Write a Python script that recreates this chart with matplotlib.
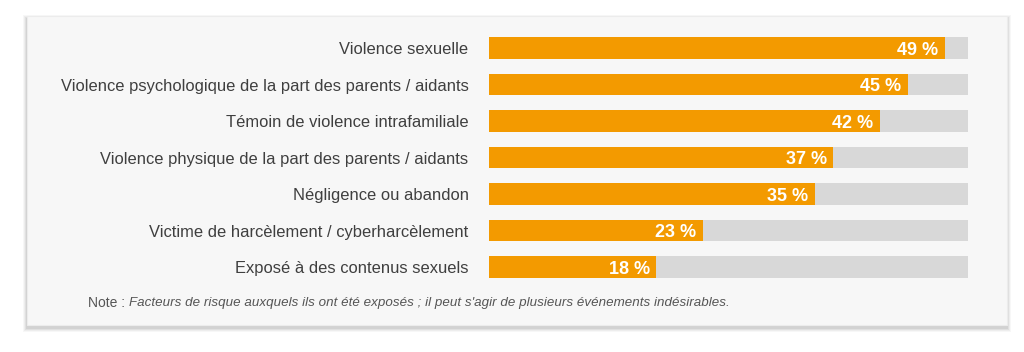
import matplotlib.pyplot as plt
from matplotlib.patches import Rectangle

categories = [
    "Violence sexuelle",
    "Violence psychologique de la part des parents / aidants",
    "Témoin de violence intrafamiliale",
    "Violence physique de la part des parents / aidants",
    "Négligence ou abandon",
    "Victime de harcèlement / cyberharcèlement",
    "Exposé à des contenus sexuels",
]
values = [49, 45, 42, 37, 35, 23, 18]
track_max = 51.5

orange = "#f39a00"
track = "#d8d8d8"
text_col = "#3f3f3f"
police = "Liberation Sans"

W, H = 1024, 352
fig = plt.figure(figsize=(W / 100, H / 100), dpi=100)
fig.patch.set_facecolor("white")

# carte de fond avec ombre
for i, a in enumerate([0.03, 0.04, 0.05, 0.06]):
    off = 4 - i
    fig.patches.append(Rectangle(((27 - off) / W, 1 - (325 + off + 3) / H),
                                 (980 + 2 * off) / W, (309 + 2 * off) / H,
                                 transform=fig.transFigure, facecolor="#000000",
                                 alpha=a, edgecolor="none", zorder=0))
fig.patches.append(Rectangle((27 / W, 1 - 325 / H), 980 / W, 309 / H,
                             transform=fig.transFigure, facecolor="#f7f7f7",
                             edgecolor="#ececec", linewidth=0.8, zorder=1))

ax = fig.add_axes([489 / W, 1 - 285.25 / H, 479 / W, 255.5 / H])
ax.set_facecolor("none")
ax.set_zorder(2)
ypos = list(range(len(categories)))
ax.barh(ypos, [track_max] * len(values), height=0.6, color=track, edgecolor="none")
ax.barh(ypos, values, height=0.6, color=orange, edgecolor="none")
ax.set_xlim(0, track_max)
ax.set_ylim(len(categories) - 0.5, -0.5)

for y, v, c in zip(ypos, values, categories):
    ax.text(v - 0.7, y, f"{v} %", ha="right", va="center_baseline", color="white",
            fontsize=13, fontweight="bold", family=police)
    ax.text(-2.2, y, c, ha="right", va="center_baseline", color=text_col,
            fontsize=11.9, family=police)

ax.set_xticks([])
ax.set_yticks([])
for s in ax.spines.values():
    s.set_visible(False)

note = fig.text(88 / W, 1 - 303 / H, "Note :", ha="left", va="center", color="#555555",
                fontsize=10, family=police)
fig.canvas.draw()
bb = note.get_window_extent()
fig.text((bb.x1 + 4) / W, 1 - 303 / H,
         "Facteurs de risque auxquels ils ont été exposés ; il peut s'agir de plusieurs événements indésirables.",
         ha="left", va="center", color="#555555", fontsize=9.6, style="italic",
         family=police)

fig.savefig("out.png", dpi=100)
